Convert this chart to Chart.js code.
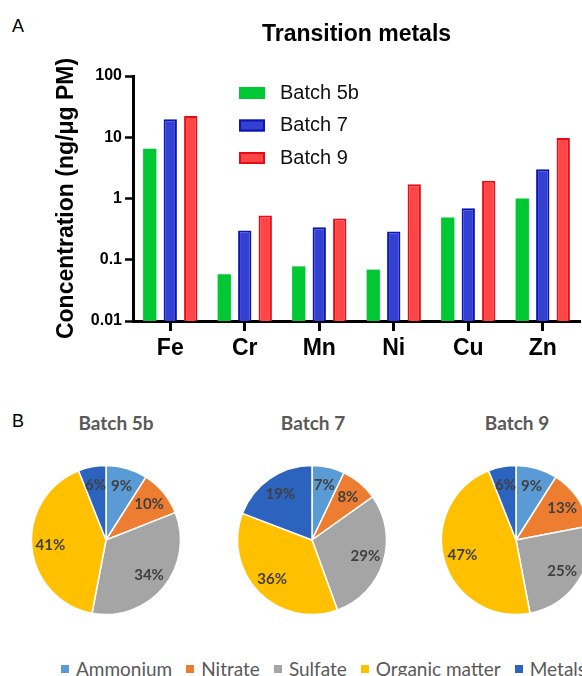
<!DOCTYPE html>
<html>
<head>
<meta charset="utf-8">
<script src="https://cdn.jsdelivr.net/npm/chart.js@4.4.1/dist/chart.umd.min.js"></script>
<style>
  body { margin: 0; background: #fff; }
  #page { position: relative; width: 582px; height: 676px; overflow: hidden; font-family: 'Liberation Sans', Arial, sans-serif; }
  .panel-tag { position: absolute; font-size: 18px; color: #000; }
  #bar-box { position: absolute; left: 0; top: 0; width: 582px; height: 370px; }
  .pie-box { position: absolute; top: 455px; width: 170px; height: 170px; }
  .pie-title { position: absolute; top: 411px; width: 160px; text-align: center; font: bold 19px Lato, sans-serif; color: #595959; }
  #pie-legend { position: absolute; left: 61px; top: 657px; display: flex; align-items: center; white-space: nowrap; font: 19px Lato, sans-serif; color: #595959; }
  #pie-legend .item { display: flex; align-items: center; margin-right: 14px; }
  #pie-legend .mark { width: 8px; height: 8px; margin-right: 7px; }
</style>
</head>
<body>
<div id="page">
  <div class="panel-tag" style="left:12px; top:16px;">A</div>
  <div id="bar-box"><canvas id="bar-chart"></canvas></div>

  <div class="panel-tag" style="left:12px; top:411px;">B</div>
  <div class="pie-title" style="left:36px;">Batch 5b</div>
  <div class="pie-title" style="left:233px;">Batch 7</div>
  <div class="pie-title" style="left:437px;">Batch 9</div>
  <div class="pie-box" style="left:21px;"><canvas id="pie-5b"></canvas></div>
  <div class="pie-box" style="left:227px;"><canvas id="pie-7"></canvas></div>
  <div class="pie-box" style="left:431px;"><canvas id="pie-9"></canvas></div>
  <div id="pie-legend"></div>
</div>

<script>
// --- Data: panel A ---
const metals = ['Fe', 'Cr', 'Mn', 'Ni', 'Cu', 'Zn'];
const batch5b = [6.5, 0.058, 0.078, 0.069, 0.49, 1.0];
const batch7 = [19.7, 0.30, 0.34, 0.29, 0.69, 3.0];
const batch9 = [22.3, 0.53, 0.47, 1.71, 1.94, 9.7];
const decadeTicks = [0.01, 0.1, 1, 10, 100];

// --- Data: panel B ---
const components = ['Ammonium', 'Nitrate', 'Sulfate', 'Organic matter', 'Metals'];
const pie5b = [9, 10, 34, 41, 6];
const pie7 = [7, 8, 29, 36, 19];
const pie9 = [9, 13, 25, 47, 6];
const pieColors = ['#5B9BD5', '#ED7D31', '#A5A5A5', '#FFC000', '#2C63BE'];

// legend drawn inside the bar chart area
const batchLegend = {
    id: 'batchLegend',
    afterDraw(chart) {
        const ctx = chart.ctx;
        ctx.save();
        chart.data.datasets.forEach((ds, i) => {
            const y = 87 + i * 32.5;
            ctx.fillStyle = ds.backgroundColor;
            ctx.fillRect(239, y, 26, 12);
            if (ds.borderWidth) {
                ctx.strokeStyle = ds.borderColor;
                ctx.lineWidth = ds.borderWidth;
                ctx.strokeRect(240, y + 1, 24, 10);
            }
            ctx.fillStyle = '#111';
            ctx.font = '20px "Liberation Sans"';
            ctx.textBaseline = 'middle';
            ctx.fillText(ds.label, 280, y + 6);
        });
        ctx.restore();
    }
};

new Chart(document.getElementById('bar-chart'), {
    type: 'bar',
    data: {
        labels: metals,
        datasets: [
            { label: 'Batch 5b', data: batch5b, backgroundColor: '#00C832', borderColor: '#00C832', borderWidth: 0 },
            { label: 'Batch 7', data: batch7, backgroundColor: '#3440D2', borderColor: '#0A14B4', borderWidth: 2 },
            { label: 'Batch 9', data: batch9, backgroundColor: '#FF4646', borderColor: '#E80A14', borderWidth: 2 }
        ]
    },
    options: {
        responsive: true,
        maintainAspectRatio: false,
        animation: false,
        categoryPercentage: 0.825,
        barPercentage: 0.65,
        layout: { padding: { left: 0, right: 2, top: 0, bottom: 0 } },
        plugins: {
            legend: { display: false },
            tooltip: { enabled: false },
            title: {
                display: true,
                text: 'Transition metals',
                fullSize: false,
                color: '#000',
                font: { family: 'Liberation Sans', size: 23, weight: 'bold' },
                padding: { top: 21, bottom: 27.4 }
            }
        },
        scales: {
            x: {
                afterFit: s => { s.height = 49; },
                border: { display: true, color: '#000', width: 3 },
                grid: { offset: false, drawOnChartArea: false, drawTicks: true, tickLength: 10, tickWidth: 3, tickColor: '#000' },
                ticks: { color: '#000', padding: 4, font: { family: 'Liberation Sans', size: 23, weight: 'bold' } }
            },
            y: {
                type: 'logarithmic',
                min: 0.01,
                max: 100,
                afterFit: s => { s.width = 133; },
                afterBuildTicks: s => { s.ticks = decadeTicks.map(v => ({ value: v })); },
                border: { display: true, color: '#000', width: 3 },
                grid: { drawOnChartArea: false, drawTicks: true, tickLength: 8, tickWidth: 2.5, tickColor: '#000' },
                ticks: {
                    color: '#000',
                    padding: 3,
                    font: { family: 'Liberation Sans', size: 16, weight: 'bold' },
                    callback: v => String(v)
                },
                title: {
                    display: true,
                    text: 'Concentration (ng/\u03bcg PM)',
                    color: '#000',
                    font: { family: 'Liberation Sans', size: 23, weight: 'bold' },
                    padding: { top: 53, bottom: 0 }
                }
            }
        }
    },
    plugins: [batchLegend]
});

// percentage labels on the slices
const pieLabels = {
    id: 'pieLabels',
    afterDatasetsDraw(chart) {
        const ctx = chart.ctx;
        const vals = chart.data.datasets[0].data;
        ctx.save();
        ctx.font = 'bold 15px Lato';
        ctx.fillStyle = '#404040';
        ctx.textAlign = 'center';
        ctx.textBaseline = 'middle';
        chart.getDatasetMeta(0).data.forEach((arc, i) => {
            const p = arc.getProps(['x', 'y', 'startAngle', 'endAngle', 'outerRadius']);
            const a = (p.startAngle + p.endAngle) / 2;
            const r = p.outerRadius * 0.75;
            ctx.fillText(vals[i] + '%', p.x + Math.cos(a) * r, p.y + Math.sin(a) * r);
        });
        ctx.restore();
    }
};

function makePie(id, values) {
    return new Chart(document.getElementById(id), {
        type: 'pie',
        data: {
            labels: components,
            datasets: [{
                data: values,
                backgroundColor: pieColors,
                borderColor: '#fff',
                borderWidth: 1.5,
                radius: 74.5
            }]
        },
        options: {
            responsive: true,
            maintainAspectRatio: false,
            animation: false,
            plugins: { legend: { display: false }, tooltip: { enabled: false } }
        },
        plugins: [pieLabels]
    });
}

makePie('pie-5b', pie5b);
makePie('pie-7', pie7);
makePie('pie-9', pie9);

// shared legend under the pies
document.getElementById('pie-legend').innerHTML = components.map((c, i) =>
    `<div class="item"><span class="mark" style="background:${pieColors[i]}"></span>${c}</div>`
).join('');
</script>
</body>
</html>
